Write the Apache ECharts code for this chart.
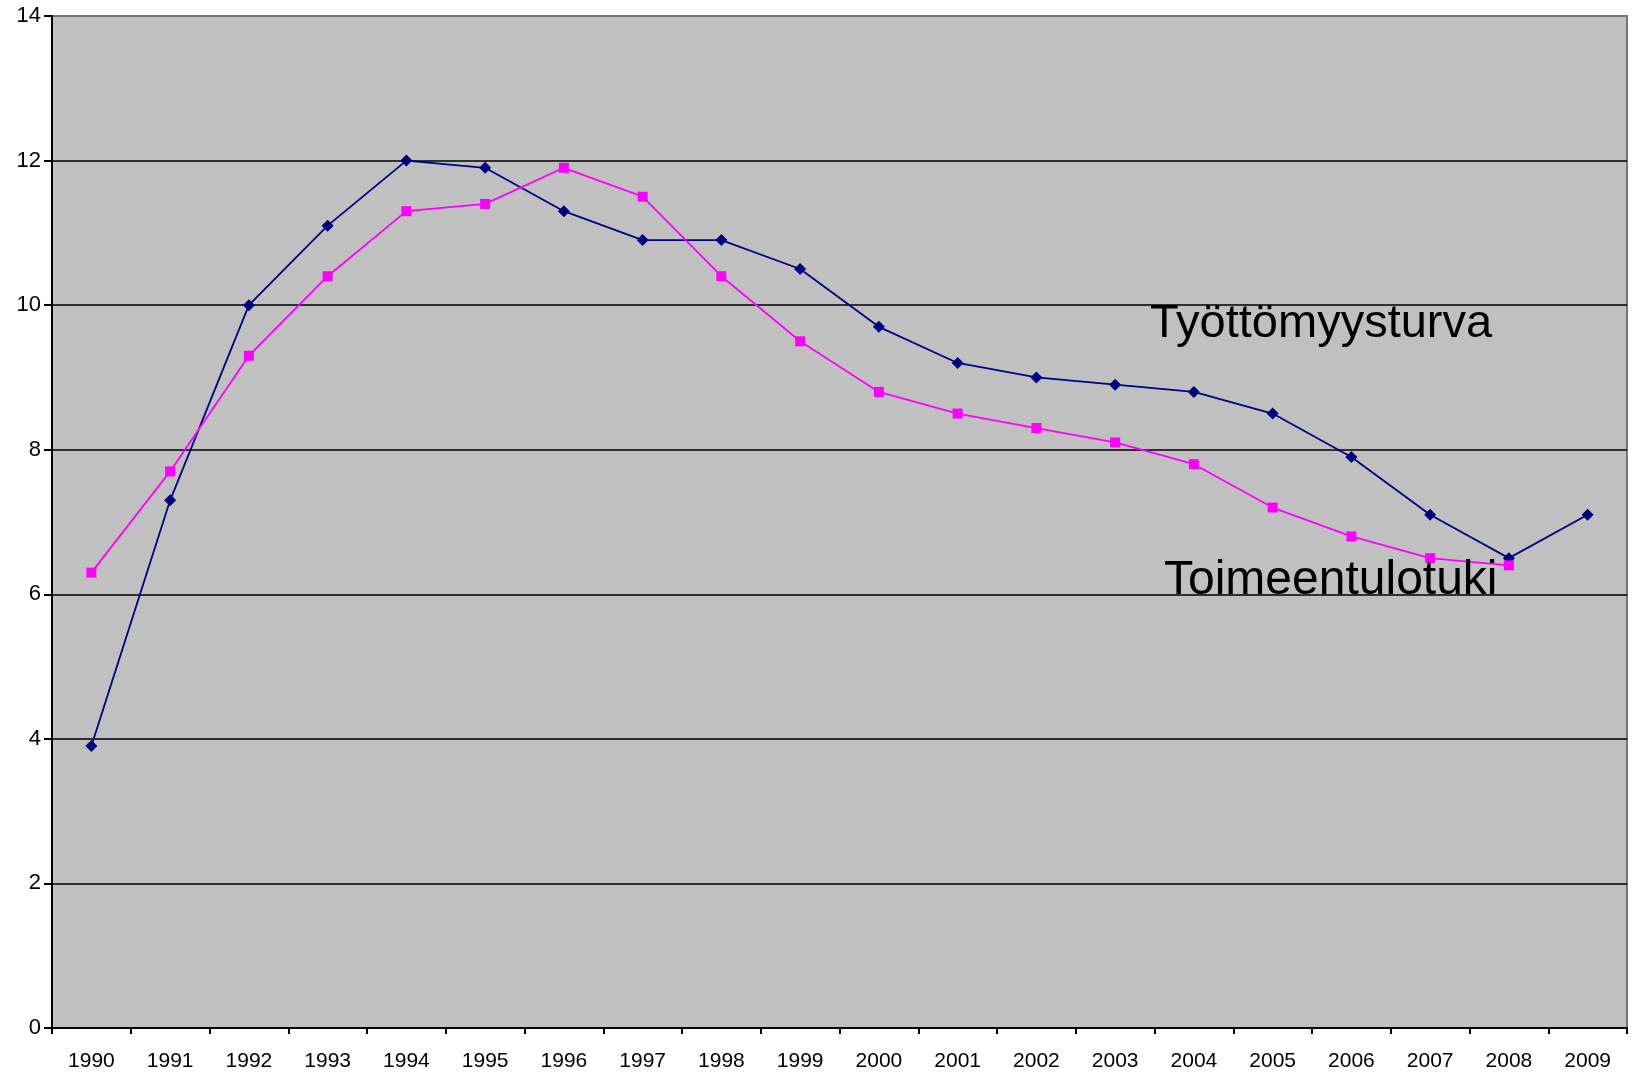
<!DOCTYPE html>
<html>
<head>
<meta charset="utf-8">
<script src="https://cdn.jsdelivr.net/npm/echarts@6/dist/echarts.min.js"></script>
<style>
  html, body { margin: 0; padding: 0; background: #fff; }
  #container1 { width: 1633px; height: 1073px; }
</style>
</head>
<body>
<div id="container1"></div>
<script>
// vuodet
var years = ['1990', '1991', '1992', '1993', '1994', '1995', '1996', '1997', '1998', '1999',
    '2000', '2001', '2002', '2003', '2004', '2005', '2006', '2007', '2008', '2009'];
// Työttömyysturva
var tyottomyysturva = [3.9, 7.3, 10.0, 11.1, 12.0, 11.9, 11.3, 10.9, 10.9, 10.5,
    9.7, 9.2, 9.0, 8.9, 8.8, 8.5, 7.9, 7.1, 6.5, 7.1];
// Toimeentulotuki
var toimeentulotuki = [6.3, 7.7, 9.3, 10.4, 11.3, 11.4, 11.9, 11.5, 10.4, 9.5,
    8.8, 8.5, 8.3, 8.1, 7.8, 7.2, 6.8, 6.5, 6.4, null];
var yTicks = [0, 2, 4, 6, 8, 10, 12, 14];

var myChart = echarts.init(document.getElementById("container1"));
var font = 'Liberation Sans, Arial, sans-serif';
option = {
    animation: false,
    backgroundColor: '#ffffff',
    grid: {
        left: 52,
        right: 6,
        top: 16,
        bottom: 45,
        show: true,
        backgroundColor: '#c0c0c0',
        borderColor: '#777777',
        borderWidth: 2
    },
    xAxis: {
        type: 'category',
        data: years,
        boundaryGap: true,
        axisLine: { lineStyle: { color: '#000', width: 2 } },
        axisTick: { show: true, length: 6, alignWithLabel: false, lineStyle: { color: '#000', width: 2 } },
        axisLabel: { color: '#000', fontSize: 21, fontFamily: font, margin: 23 },
        splitLine: { show: false }
    },
    yAxis: {
        type: 'value',
        min: yTicks[0],
        max: yTicks[yTicks.length - 1],
        interval: 2,
        axisLine: { show: true, lineStyle: { color: '#000', width: 2 } },
        axisTick: { show: true, length: 8, lineStyle: { color: '#000', width: 2 } },
        axisLabel: { color: '#000', fontSize: 22, fontFamily: font, margin: 11 },
        splitLine: { show: true, showMaxLine: false, lineStyle: { color: '#000', width: 1.5 } }
    },
    series: [
        {
            name: 'Työttömyysturva',
            type: 'line',
            data: tyottomyysturva,
            symbol: 'diamond',
            symbolSize: 12,
            itemStyle: { color: '#000080' },
            lineStyle: { color: '#000080', width: 1.8 }
        },
        {
            name: 'Toimeentulotuki',
            type: 'line',
            data: toimeentulotuki,
            symbol: 'rect',
            symbolSize: 10,
            itemStyle: { color: '#ff00ff' },
            lineStyle: { color: '#ff00ff', width: 1.8 }
        }
    ],
    graphic: [
        {
            type: 'text', left: 1150, top: 301, z: 100,
            style: { text: 'Työttömyysturva', font: '47px ' + font, fill: '#000' }
        },
        {
            type: 'text', left: 1164, top: 557, z: 100,
            style: { text: 'Toimeentulotuki', font: '48px ' + font, fill: '#000' }
        }
    ]
};
myChart.setOption(option);
</script>
</body>
</html>
